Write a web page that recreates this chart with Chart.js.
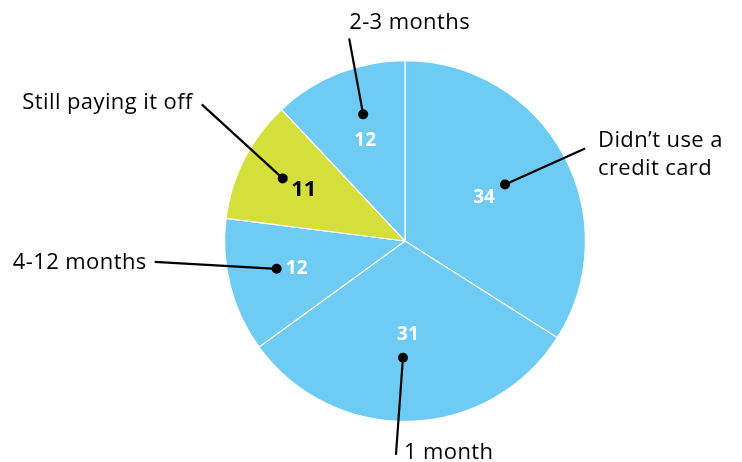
<!DOCTYPE html>
<html lang="en">
<head>
  <meta charset="UTF-8">
  <title>Credit card payoff</title>
  <script src="https://cdn.jsdelivr.net/npm/chart.js"></script>
  <style>
    html, body { margin: 0; padding: 0; background: #ffffff; }
    .chart-box { width: 742px; height: 462px; }
  </style>
</head>
<body>

<div class="chart-box">
  <canvas id="chart" width="742" height="462"></canvas>
</div>

<script>
  // data, clockwise from 12 o'clock
  const categories = ["Didn\u2019t use a\ncredit card", "1 month", "4-12 months", "Still paying it off", "2-3 months"];
  const values = [34, 31, 12, 11, 12];
  const sliceColors = ["#6ecbf3", "#6ecbf3", "#6ecbf3", "#d5df3b", "#6ecbf3"];

  // callout layout for each slice: value text radius (fraction of r), dot offset from value,
  // line end offset from dot, label alignment and offset from line end
  const callouts = [
    { rf: 0.50, dot: [21, -13], end: [80, -36], align: "left",   lab: [13, 6],   valColor: "#fff", valSize: 19 },
    { rf: 0.52, dot: [-5, 23],  end: [-7, 97],  align: "left",   lab: [8, -2],   valColor: "#fff", valSize: 19 },
    { rf: 0.62, dot: [-20, 0],  end: [-122, -7], align: "right", lab: [-8, 1],   valColor: "#fff", valSize: 19 },
    { rf: 0.63, dot: [-21, -11], end: [-81, -74], align: "right", lab: [-9, -2], valColor: "#000", valSize: 22 },
    { rf: 0.60, dot: [-2, -26], end: [-14, -76], align: "left",  lab: [0, -16],  valColor: "#fff", valSize: 19 }
  ];

  const FONT = "'Open Sans', 'Noto Sans', sans-serif";

  const calloutPlugin = {
    id: "callouts",
    afterDatasetsDraw(chart) {
      const c = chart.ctx;
      const meta = chart.getDatasetMeta(0);
      meta.data.forEach((arc, i) => {
        const cfg = callouts[i];
        const mid = (arc.startAngle + arc.endAngle) / 2;
        const r = arc.outerRadius * cfg.rf;
        const vx = arc.x + Math.cos(mid) * r;
        const vy = arc.y + Math.sin(mid) * r;
        const dx = vx + cfg.dot[0], dy = vy + cfg.dot[1];
        const ex = dx + cfg.end[0], ey = dy + cfg.end[1];

        c.save();
        // value
        c.fillStyle = cfg.valColor;
        c.font = "bold " + cfg.valSize + "px " + FONT;
        c.textAlign = "center";
        c.textBaseline = "middle";
        c.fillText(values[i], vx, vy);

        // leader line + dot
        c.strokeStyle = "#000";
        c.lineWidth = 2.2;
        c.beginPath();
        c.moveTo(dx, dy);
        c.lineTo(ex, ey);
        c.stroke();
        c.fillStyle = "#000";
        c.beginPath();
        c.arc(dx, dy, 5, 0, Math.PI * 2);
        c.fill();

        // label
        c.font = "22px " + FONT;
        c.letterSpacing = "0.4px";
        c.textAlign = cfg.align;
        const lines = categories[i].split("\n");
        const lh = 28;
        const top = ey + cfg.lab[1] - (lines.length - 1) * lh / 2;
        lines.forEach((ln, k) => c.fillText(ln, ex + cfg.lab[0], top + k * lh));
        c.restore();
      });
    }
  };

  new Chart(document.getElementById("chart"), {
    type: "pie",
    data: {
      labels: categories,
      datasets: [{
        data: values,
        backgroundColor: sliceColors,
        borderColor: "#ffffff",
        borderWidth: 1.2
      }]
    },
    options: {
      responsive: false,
      animation: false,
      layout: { padding: { left: 224, right: 156, top: 60, bottom: 40 } },
      plugins: {
        legend: { display: false },
        tooltip: { enabled: false }
      }
    },
    plugins: [calloutPlugin]
  });
</script>

</body>
</html>
